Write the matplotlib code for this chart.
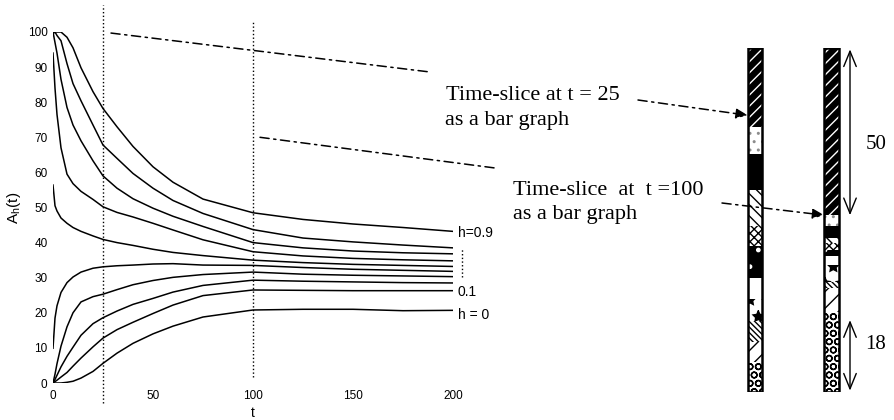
import matplotlib
matplotlib.use('Agg')
import matplotlib.pyplot as plt

plt.rcParams['font.family'] = 'Liberation Sans'
plt.rcParams['hatch.linewidth'] = 1.0

# -----------------------------------------------------------------------------
# Data
# -----------------------------------------------------------------------------

t = [0, 1, 2, 4, 7, 10, 14, 20, 25, 32, 40, 50, 60, 75, 100, 125, 150, 175, 200]

a_h00 = [0, 0, 0, 0, 0.2, 0.5, 1.4, 3.3, 5.6, 8.5, 11.3, 14.0, 16.2, 18.8, 20.8, 21.0, 21.0, 20.6, 20.7]
a_h01 = [0, 0.4, 0.8, 1.7, 3.0, 4.8, 7.1, 10.3, 12.8, 15.2, 17.3, 19.8, 22.2, 24.9, 26.5, 26.4, 26.3, 26.3, 26.3]
a_h02 = [0, 1.0, 2.2, 4.6, 7.6, 10.2, 13.6, 16.9, 18.6, 20.5, 22.4, 24.1, 25.9, 27.8, 29.3, 29.0, 28.8, 28.6, 28.5]
a_h03 = [0, 2.5, 5.5, 10.5, 16.0, 20.0, 23.1, 24.6, 25.3, 26.6, 28.0, 29.2, 30.1, 30.9, 31.6, 31.0, 30.7, 30.5, 30.3]
a_h04 = [9.9, 18.5, 22.0, 25.8, 28.6, 30.2, 31.6, 32.7, 33.1, 33.4, 33.6, 33.9, 34.0, 33.6, 33.5, 32.9, 32.4, 32.1, 31.8]
a_h05 = [56.4, 50.5, 49.0, 47.0, 45.5, 44.3, 43.2, 41.9, 40.9, 40.0, 39.2, 38.1, 37.2, 36.3, 35.0, 34.3, 33.8, 33.5, 33.2]
a_h06 = [94.0, 84.0, 76.5, 67.0, 59.5, 56.8, 54.6, 52.3, 50.2, 48.6, 47.3, 45.5, 43.6, 40.8, 37.4, 36.2, 35.5, 35.1, 34.8]
a_h07 = [100, 97.0, 94.0, 86.5, 78.5, 73.5, 69.0, 63.3, 59.0, 55.5, 52.5, 49.8, 47.5, 44.6, 40.0, 38.5, 37.6, 37.1, 36.8]
a_h08 = [100, 100, 99.0, 97.5, 91.0, 85.3, 80.4, 73.5, 67.8, 64.0, 59.7, 55.5, 52.0, 48.3, 43.7, 41.3, 40.2, 39.3, 38.5]
a_h09 = [99.5, 100, 100, 100, 98.5, 95.5, 89.8, 83.0, 78.2, 73.0, 67.4, 61.6, 57.2, 52.4, 48.5, 46.6, 45.3, 44.3, 43.2]

curves = [a_h00, a_h01, a_h02, a_h03, a_h04, a_h05, a_h06, a_h07, a_h08, a_h09]

x_ticks = [0, 50, 100, 150, 200]
y_ticks = [0, 10, 20, 30, 40, 50, 60, 70, 80, 90, 100]
slice_times = [25, 100]

# stacked bars (bottom -> top), same category order in both
bar_t25 = [8.7, 5.8, 6.1, 6.4, 6.1, 9.3, 5.8, 10.5, 10.5, 7.8, 23.0]
bar_t100 = [23.3, 7.0, 1.7, 4.9, 2.6, 1.7, 2.0, 1.5, 3.5, 3.2, 48.6]
bar_top_label = '50'
bar_bottom_label = '18'

# segment looks
seg_face = ['white', 'white', 'white', 'white', 'white', 'black',
            'white', 'white', 'black', 'white', 'black']
seg_hatch = ['OO', '//', '\\\\\\\\\\\\', '*', None, '.',
             'xxxx', '\\\\\\', None, '..', '///']
seg_hatch_col = ['black', 'black', 'black', 'black', 'black', 'white',
                 'black', 'black', 'black', '0.55', 'white']

# -----------------------------------------------------------------------------
# Figure
# -----------------------------------------------------------------------------

W, H = 894, 420
fig = plt.figure(figsize=(W / 100, H / 100), dpi=100)

ax = fig.add_axes([53 / W, 37 / H, 400 / W, 351 / H])
for c in curves:
    ax.plot(t, c, color='black', lw=1.1)

ax.set_xlim(0, 200)
ax.set_ylim(0, 100)
ax.set_xticks(x_ticks)
ax.set_yticks(y_ticks)
for s in ax.spines.values():
    s.set_visible(False)
ax.patch.set_visible(False)
ax.tick_params(axis='both', length=0, labelsize=8.5)
ax.tick_params(axis='x', pad=5)
ax.tick_params(axis='y', pad=4)
ax.set_xlabel('t', fontsize=10)
ax.xaxis.set_label_coords(0.5, -0.066)
ax.set_ylabel(r'A$_\mathregular{h}$(t)', fontsize=11)
ax.yaxis.set_label_coords(-0.075, 0.5)

# time-slice markers
ax.vlines(slice_times[0], -5.7, 107.7, colors='black', linestyles='dotted', lw=1, clip_on=False)
ax.vlines(slice_times[1], 1.7, 103.4, colors='black', linestyles='dotted', lw=1, clip_on=False)

# curve labels
ax.text(202.5, a_h09[-1] - 0.5, 'h=0.9', fontsize=10, va='center', ha='left')
ax.text(202.5, a_h01[-1] - 0.5, '0.1', fontsize=10, va='center', ha='left')
ax.text(202.5, a_h00[-1] - 1.2, 'h = 0', fontsize=10, va='center', ha='left')
ax.vlines(204.3, a_h03[-1], a_h08[-1], colors='black', linestyles='dotted', lw=1, clip_on=False)

dashdot = (0, (6, 3, 1.5, 3))
ax.annotate('', xy=(430, H - 72), xycoords='figure pixels', xytext=(29, 99.7), textcoords='data',
            arrowprops=dict(arrowstyle='-', color='black', lw=1.1, linestyle=dashdot,
                            shrinkA=0, shrinkB=0), annotation_clip=False)
ax.annotate('', xy=(495, H - 168), xycoords='figure pixels', xytext=(103.5, 70), textcoords='data',
            arrowprops=dict(arrowstyle='-', color='black', lw=1.1, linestyle=dashdot,
                            shrinkA=0, shrinkB=0), annotation_clip=False)

serif = 'Liberation Serif'
fig.text(446 / W, 1 - 100 / H, 'Time-slice at t = 25', family=serif, fontsize=16, va='baseline')
fig.text(445 / W, 1 - 125 / H, 'as a bar graph', family=serif, fontsize=16, va='baseline')
fig.text(513 / W, 1 - 195 / H, 'Time-slice  at  t =100', family=serif, fontsize=16, va='baseline')
fig.text(513 / W, 1 - 219 / H, 'as a bar graph', family=serif, fontsize=16, va='baseline')

# -----------------------------------------------------------------------------
# Bars
# -----------------------------------------------------------------------------

px_unit = 76.5
ax_bar = fig.add_axes([730 / W, 28 / H, 164 / W, 344 / H])
ax_bar.set_xlim(-25 / px_unit, 139 / px_unit)
ax_bar.set_ylim(0, 100)
ax_bar.axis('off')
bar_w = 14.5 / px_unit

for xpos, vals in zip([0, 1], [bar_t25, bar_t100]):
    bottom = 0
    for v, fc, hatch, hc in zip(vals, seg_face, seg_hatch, seg_hatch_col):
        ax_bar.bar(xpos, v, width=bar_w, bottom=bottom, facecolor=fc, hatch=hatch,
                   edgecolor=hc, linewidth=0)
        bottom += v
    ax_bar.bar(xpos, bottom, width=bar_w, fill=False, edgecolor='black', linewidth=1.8)

# dash-dot pointers from text to bars
tot25 = sum(bar_t25)
tot100 = sum(bar_t100)
y25 = tot25 - bar_t25[-1] * 0.85
y100 = tot100 - bar_t100[-1]
for (x0, y0), xb, yb in [((638, H - 100), 0 - bar_w / 2, y25),
                         ((722, H - 203), 1 - bar_w / 2, y100)]:
    ax_bar.annotate('', xy=(xb, yb), xycoords='data', xytext=(x0, y0), textcoords='figure pixels',
                    arrowprops=dict(arrowstyle='-|>,head_length=0.7,head_width=0.3',
                                    color='black', lw=1.1, linestyle=dashdot,
                                    shrinkA=0, shrinkB=0), annotation_clip=False)

# size arrows, just right of the t = 100 bar
xa = 1 + 18.5 / px_unit
xt = 1 + 34 / px_unit
ax_bar.annotate('', xy=(xa, tot100 - bar_t100[-1]), xytext=(xa, tot100),
                arrowprops=dict(arrowstyle='<->,head_length=1.1,head_width=0.45',
                                color='black', lw=1, shrinkA=1, shrinkB=0))
ax_bar.annotate('', xy=(xa, 0), xytext=(xa, bar_t100[0]),
                arrowprops=dict(arrowstyle='<->,head_length=1.1,head_width=0.45',
                                color='black', lw=1, shrinkA=6, shrinkB=1))
ax_bar.text(xt, 72, bar_top_label, family=serif, fontsize=15, va='center', ha='left')
ax_bar.text(xt, 13.8, bar_bottom_label, family=serif, fontsize=15, va='center', ha='left')

fig.savefig('out.png', dpi=100)
